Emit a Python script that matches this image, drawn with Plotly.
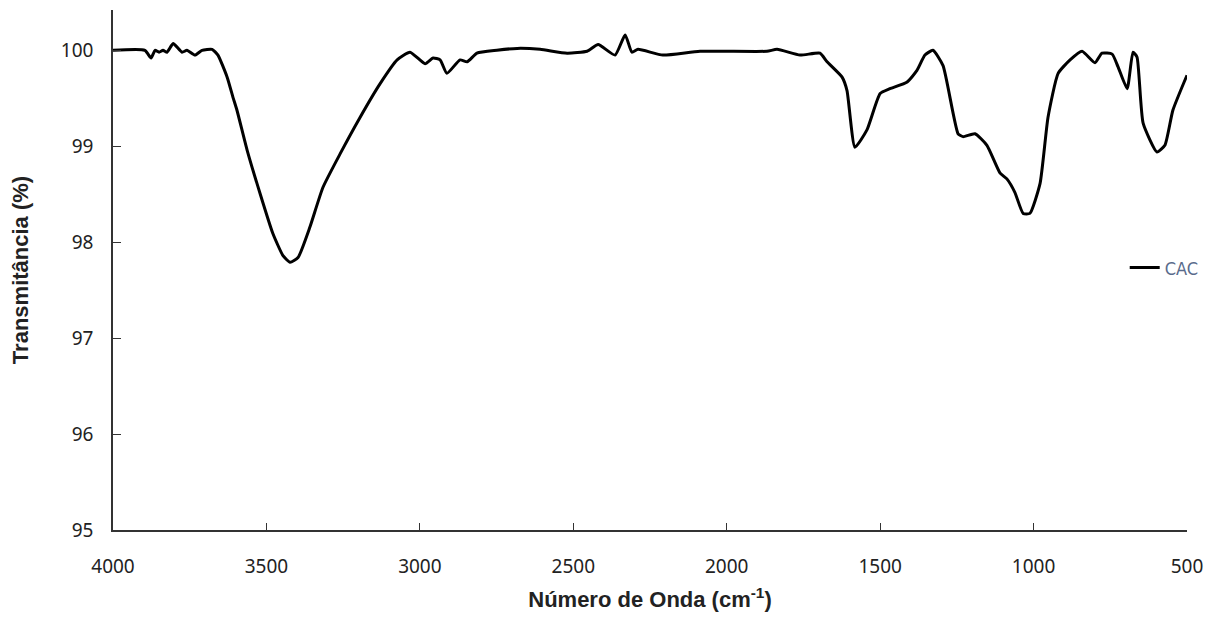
import plotly.graph_objects as go

wavenumber = [4000, 3896, 3876, 3863, 3850, 3837, 3824, 3804, 3775, 3759, 3733, 3710, 3677, 3658,
              3628, 3609, 3596, 3563, 3521, 3479, 3446, 3423, 3397, 3358, 3316, 3260, 3195, 3130,
              3074, 3032, 2983, 2957, 2934, 2912, 2869, 2846, 2814, 2749, 2683, 2608, 2520, 2455,
              2419, 2364, 2331, 2309, 2289, 2208, 2087, 1869, 1836, 1761, 1696, 1673, 1624, 1608,
              1582, 1543, 1500, 1468, 1412, 1380, 1354, 1328, 1295, 1246, 1230, 1191, 1152, 1109,
              1087, 1061, 1034, 1012, 979, 953, 920, 881, 842, 800, 777, 744, 725, 695, 676, 663,
              643, 598, 572, 546, 500]
transmittance = [100.00, 100.00, 99.92, 100.00, 99.98, 100.00, 99.98, 100.07, 99.98, 100.00, 99.95,
                 100.00, 100.01, 99.95, 99.72, 99.51, 99.375, 98.96, 98.51, 98.09, 97.86, 97.79,
                 97.84, 98.16, 98.57, 98.92, 99.30, 99.65, 99.90, 99.98, 99.86, 99.92, 99.90, 99.76,
                 99.90, 99.88, 99.97, 100.00, 100.02, 100.01, 99.97, 99.99, 100.06, 99.95, 100.16,
                 99.98, 100.01, 99.95, 99.99, 99.99, 100.01, 99.95, 99.97, 99.88, 99.72, 99.58,
                 98.99, 99.17, 99.55, 99.60, 99.67, 99.79, 99.95, 100.00, 99.84, 99.13, 99.10,
                 99.13, 99.01, 98.72, 98.66, 98.52, 98.30, 98.30, 98.61, 99.30, 99.76, 99.90, 99.99,
                 99.87, 99.97, 99.96, 99.83, 99.60, 99.98, 99.93, 99.24, 98.94, 99.01, 99.375, 99.74]

x_ticks = [4000, 3500, 3000, 2500, 2000, 1500, 1000, 500]
y_ticks = [95, 96, 97, 98, 99, 100]
series_name = "CAC"

fig = go.Figure()
fig.add_trace(go.Scatter(
    x=wavenumber, y=transmittance, mode="lines", name=series_name,
    line=dict(color="black", width=3, shape="spline", smoothing=0.5),
))

tick_font = dict(family="Noto Sans, DejaVu Sans, sans-serif", size=19, color="#222")
title_font = dict(family="Liberation Sans, Arial, sans-serif", size=22, color="#222")

fig.update_layout(
    width=1215, height=618,
    margin=dict(l=113, r=28, t=10, b=88),
    plot_bgcolor="white", paper_bgcolor="white",
    showlegend=True,
    legend=dict(x=0.942, y=0.504, xanchor="left", yanchor="middle",
                font=dict(family="Liberation Sans Narrow, DejaVu Sans Condensed, Noto Sans, sans-serif",
                          size=18, color="#5a6b8c"),
                bgcolor="rgba(0,0,0,0)", itemwidth=30),
    xaxis=dict(range=[4000, 500], tickvals=x_ticks, ticktext=[str(v) for v in x_ticks],
               showgrid=False, zeroline=False, showline=True, linecolor="#333", linewidth=1.5,
               ticks="inside", ticklen=7, tickcolor="#333", tickwidth=1.2,
               tickfont=tick_font, ticklabelstandoff=18,
               title=dict(text="<b>Número de Onda (cm<sup>-1</sup>)</b>", font=title_font, standoff=14)),
    yaxis=dict(range=[95, 100.42], tickvals=y_ticks, ticktext=[str(v) for v in y_ticks],
               showgrid=False, zeroline=False, showline=True, linecolor="#333", linewidth=1.5,
               ticks="inside", ticklen=8, tickcolor="#333", tickwidth=1.2,
               tickfont=tick_font, ticklabelstandoff=14,
               title=dict(text="<b>Transmitância (%)</b>", font=title_font, standoff=26)),
)

fig.write_html("out.html")
